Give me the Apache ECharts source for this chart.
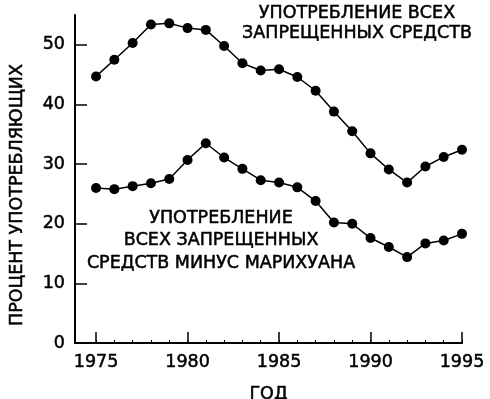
<!DOCTYPE html>
<html>
<head>
<meta charset="utf-8">
<style>
  html, body { margin: 0; padding: 0; background: #fff; }
  #chart { width: 490px; height: 399px; }
</style>
<script src="https://cdn.jsdelivr.net/npm/echarts@6/dist/echarts.min.js"></script>
</head>
<body>
<div id="chart"></div>
<script>
// годы
var years = [1975, 1976, 1977, 1978, 1979, 1980, 1981, 1982, 1983, 1984, 1985,
             1986, 1987, 1988, 1989, 1990, 1991, 1992, 1993, 1994, 1995];
// употребление всех запрещенных средств
var allDrugs = [44.7, 47.5, 50.3, 53.4, 53.6, 52.8, 52.5, 49.8, 46.9, 45.7, 45.9,
                44.6, 42.3, 38.8, 35.5, 31.8, 29.1, 26.9, 29.6, 31.2, 32.4];
// минус марихуана
var minusMarijuana = [26.0, 25.8, 26.3, 26.8, 27.5, 30.7, 33.5, 31.1, 29.2, 27.3, 26.9,
                      26.1, 23.8, 20.2, 20.0, 17.6, 16.1, 14.4, 16.7, 17.2, 18.3];
var xTicks = [1975, 1980, 1985, 1990, 1995];
var yTicks = [0, 10, 20, 30, 40, 50];

var FONT = 'DejaVu Sans, Verdana, sans-serif';

var chart = echarts.init(document.getElementById('chart'));

function pairs(vals) {
    return years.map(function (y, i) { return [y, vals[i]]; });
}

// скан - буквы чуть жирнее обычного
var txt = { color: '#000', fontSize: 17.5, fontFamily: FONT, textBorderColor: '#000', textBorderWidth: 0.5 };
var gfont = '17.5px ' + FONT;

var option = {
    animation: false,
    backgroundColor: '#fff',
    grid: { left: 75, right: 28, top: 15, bottom: 56, outerBoundsMode: 'none', containLabel: false },
    xAxis: [{
        type: 'value',
        min: 1973.85,
        max: 1995,
        name: 'ГОД',
        nameLocation: 'middle',
        nameGap: 42,
        nameTextStyle: txt,
        splitLine: { show: false },
        axisLine: { lineStyle: { color: '#000', width: 2 } },
        axisTick: { inside: true, length: 11, customValues: xTicks, lineStyle: { color: '#000', width: 1.5 } },
        axisLabel: Object.assign({
            customValues: xTicks, margin: 10,
            formatter: function (v) { return String(v); }
        }, txt)
    }, {
        type: 'value',
        position: 'bottom',
        min: 1973.85,
        max: 1995,
        splitLine: { show: false },
        axisLine: { show: false },
        axisTick: { inside: true, length: 3, customValues: years, lineStyle: { color: '#000', width: 1 } },
        axisLabel: { show: false }
    }],
    yAxis: {
        type: 'value',
        min: 0,
        max: 55,
        splitLine: { show: false },
        axisLine: { lineStyle: { color: '#000', width: 2 } },
        axisTick: { inside: true, length: 12, customValues: yTicks, lineStyle: { color: '#000', width: 1.5 } },
        axisLabel: Object.assign({ customValues: yTicks, margin: 10 }, txt)
    },
    series: [{
        name: 'Все запрещенные средства',
        type: 'line',
        data: pairs(allDrugs),
        symbol: 'circle',
        symbolSize: 10,
        itemStyle: { color: '#000' },
        lineStyle: { color: '#000', width: 1.5 }
    }, {
        name: 'Минус марихуана',
        type: 'line',
        data: pairs(minusMarijuana),
        symbol: 'circle',
        symbolSize: 10,
        itemStyle: { color: '#000' },
        lineStyle: { color: '#000', width: 1.5 }
    }],
    graphic: [{
        // подпись оси Y (смещена ниже центра, как в оригинале)
        type: 'text',
        x: 17, y: 195,
        rotation: Math.PI / 2,
        style: {
            text: 'ПРОЦЕНТ УПОТРЕБЛЯЮЩИХ',
            fill: '#000', font: gfont, stroke: '#000', lineWidth: 0.5,
            align: 'center', verticalAlign: 'middle'
        }
    }, {
        type: 'text',
        x: 357, y: 3,
        style: {
            text: 'УПОТРЕБЛЕНИЕ ВСЕХ\nЗАПРЕЩЕННЫХ СРЕДСТВ',
            fill: '#000', font: gfont, stroke: '#000', lineWidth: 0.5,
            align: 'center', verticalAlign: 'top', lineHeight: 20
        }
    }, {
        type: 'text',
        x: 221, y: 207,
        style: {
            text: 'УПОТРЕБЛЕНИЕ\nВСЕХ ЗАПРЕЩЕННЫХ\nСРЕДСТВ МИНУС МАРИХУАНА',
            fill: '#000', font: gfont, stroke: '#000', lineWidth: 0.5,
            align: 'center', verticalAlign: 'top', lineHeight: 22.5
        }
    }]
};

chart.setOption(option);
</script>
</body>
</html>
